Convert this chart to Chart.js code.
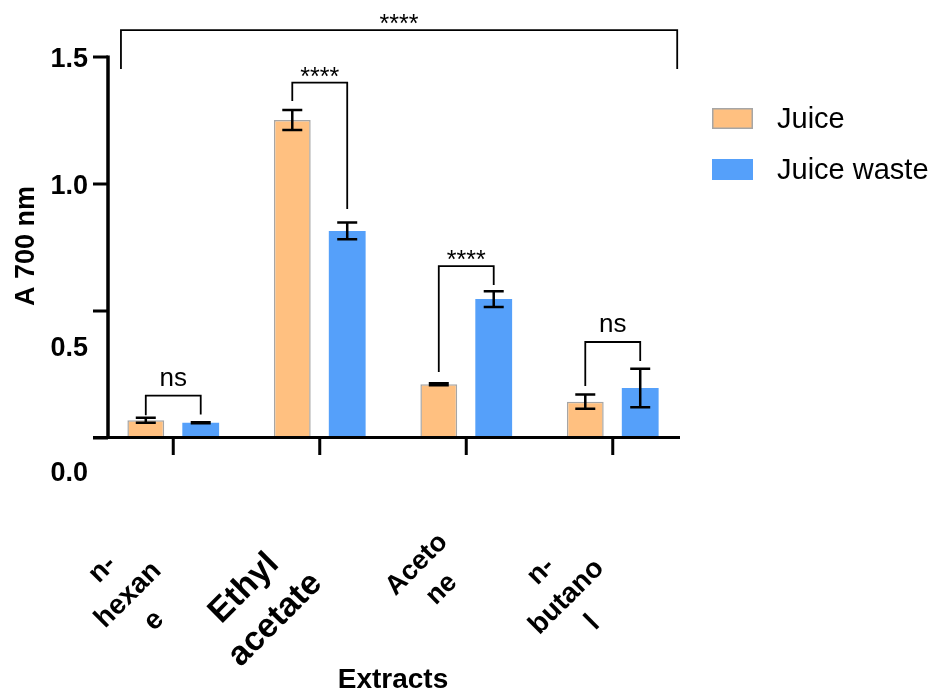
<!DOCTYPE html>
<html>
<head>
<meta charset="utf-8">
<script src="https://cdn.jsdelivr.net/npm/chart.js@4.4.0/dist/chart.umd.min.js"></script>
<style>
  html, body { margin: 0; padding: 0; background: #fff; }
  canvas { display: block; }
</style>
</head>
<body>
<canvas id="chart" width="941" height="691"></canvas>
<script>
const categories = [['n-', 'hexan', 'e'], ['Ethyl', 'acetate'], ['Aceto', 'ne'], ['n-', 'butano', 'l']]
const juice = [0.07, 1.252, 0.212, 0.143]
const juiceErr = [0.01, 0.039, 0.004, 0.028]
const juiceWaste = [0.06, 0.815, 0.547, 0.197]
const juiceWasteErr = [0.002, 0.033, 0.031, 0.076]
const yTicks = [0, 0.5, 1.0, 1.5]
const yTickLabels = ['0.0', '0.5', '1.0', '1.5']

// significance brackets, one per group (y in data units)
const sigText = ['ns', '****', '****', 'ns']
const sigTop = [0.167, 1.399, 0.677, 0.378]
const sigLeftEnd = [0.09, 1.327, 0.26, 0.205]
const sigRightEnd = [0.093, 0.902, 0.602, 0.303]
// bracket over the whole graph
const allText = '****'
const allTop = 1.606
const allEnd = 1.453
const allFrom = -0.357
const allTo = 3.44

const FONT = '"Liberation Sans", Arial, sans-serif'
const orange = 'rgb(255, 192, 128)'
const blue = 'rgb(85, 160, 250)'
const yLabelShift = [33, 35, 0, 0]
const xLabelSize = [28, 34, 27, 28]
const xLabelNudge = [[-45, 157], [-60, 166], [-37, 139], [-46, 159]]

const prismPlugin = {
  id: 'prism',
  afterDatasetsDraw (chart) {
    const ctx = chart.ctx
    const y = chart.scales.y
    const errs = [juiceErr, juiceWasteErr]
    const vals = [juice, juiceWaste]
    ctx.save()
    ctx.strokeStyle = '#000'
    ctx.lineWidth = 2.5
    for (let d = 0; d < 2; d++) {
      chart.getDatasetMeta(d).data.forEach((bar, i) => {
        const top = y.getPixelForValue(vals[d][i] + errs[d][i])
        const bot = y.getPixelForValue(vals[d][i] - errs[d][i])
        ctx.beginPath()
        ctx.moveTo(bar.x, top); ctx.lineTo(bar.x, bot)
        ctx.moveTo(bar.x - 10, top); ctx.lineTo(bar.x + 10, top)
        ctx.moveTo(bar.x - 10, bot); ctx.lineTo(bar.x + 10, bot)
        ctx.stroke()
      })
    }
    ctx.restore()
  },
  afterDraw (chart) {
    const ctx = chart.ctx
    const x = chart.scales.x
    const y = chart.scales.y
    const area = chart.chartArea
    const axisX = area.left + 8
    const zero = y.getPixelForValue(0)
    ctx.save()
    ctx.strokeStyle = '#000'
    ctx.fillStyle = '#000'

    // axes
    ctx.lineWidth = 3.5
    ctx.beginPath()
    ctx.moveTo(axisX, y.getPixelForValue(1.5) - 1.5)
    ctx.lineTo(axisX, zero)
    ctx.stroke()
    ctx.lineWidth = 3
    ctx.beginPath()
    ctx.moveTo(axisX - 15, zero - 0.5)
    ctx.lineTo(area.right - 6, zero - 0.5)
    yTicks.forEach(v => {
      const py = y.getPixelForValue(v)
      ctx.moveTo(axisX - 15, py); ctx.lineTo(axisX, py)
    })
    categories.forEach((c, i) => {
      const px = x.getPixelForValue(i)
      ctx.moveTo(px, zero); ctx.lineTo(px, zero + 17)
    })
    ctx.stroke()

    // y tick labels
    ctx.font = 'bold 27px ' + FONT
    ctx.textAlign = 'right'
    ctx.textBaseline = 'alphabetic'
    yTicks.forEach((v, i) => {
      ctx.fillText(yTickLabels[i], axisX - 20, y.getPixelForValue(v) + 9.5 + yLabelShift[i])
    })

    // x tick labels, rotated
    categories.forEach((lines, i) => {
      const size = xLabelSize[i]
      ctx.save()
      ctx.translate(x.getPixelForValue(i) + xLabelNudge[i][0], zero + xLabelNudge[i][1])
      ctx.rotate(-Math.PI / 4)
      ctx.font = 'bold ' + size + 'px ' + FONT
      ctx.textAlign = 'center'
      ctx.textBaseline = 'middle'
      const lh = size * 1.3
      lines.forEach((t, k) => ctx.fillText(t, 0, (k - (lines.length - 1) / 2) * lh))
      ctx.restore()
    })

    // axis titles
    ctx.font = 'bold 28px ' + FONT
    ctx.textAlign = 'center'
    ctx.textBaseline = 'alphabetic'
    ctx.fillText('Extracts', 393, 688)
    ctx.save()
    ctx.translate(34, 246)
    ctx.rotate(-Math.PI / 2)
    ctx.font = 'bold 27px ' + FONT
    ctx.fillText('A 700 nm', 0, 0)
    ctx.restore()

    // significance brackets
    ctx.lineWidth = 1.8
    const m0 = chart.getDatasetMeta(0).data
    const m1 = chart.getDatasetMeta(1).data
    const bracket = (x1, x2, topV, e1, e2, text) => {
      const ty = y.getPixelForValue(topV)
      ctx.beginPath()
      ctx.moveTo(x1, y.getPixelForValue(e1))
      ctx.lineTo(x1, ty)
      ctx.lineTo(x2, ty)
      ctx.lineTo(x2, y.getPixelForValue(e2))
      ctx.stroke()
      ctx.textAlign = 'center'
      ctx.textBaseline = 'alphabetic'
      if (text === 'ns') {
        ctx.font = '26px ' + FONT
        ctx.fillText(text, (x1 + x2) / 2, ty - 10)
      } else {
        ctx.font = '25px ' + FONT
        ctx.fillText(text, (x1 + x2) / 2, ty - 12.5 + 0.58 * 25)
      }
    }
    sigText.forEach((t, i) => {
      bracket(m0[i].x, m1[i].x, sigTop[i], sigLeftEnd[i], sigRightEnd[i], t)
    })
    bracket(x.getPixelForValue(allFrom), x.getPixelForValue(allTo), allTop, allEnd, allEnd, allText)

    // legend
    const ds = chart.data.datasets
    const rows = [108, 159]
    ds.forEach((d, i) => {
      ctx.fillStyle = d.backgroundColor
      ctx.fillRect(712, rows[i], 41, 21)
      if (d.borderWidth) {
        ctx.strokeStyle = d.borderColor
        ctx.lineWidth = 1.5
        ctx.strokeRect(712.75, rows[i] + 0.75, 39.5, 19.5)
      }
      ctx.fillStyle = '#000'
      ctx.font = '29px ' + FONT
      ctx.textAlign = 'left'
      ctx.fillText(d.label, 777, rows[i] + 20)
    })
    ctx.restore()
  }
}

new Chart(document.getElementById('chart'), {
  type: 'bar',
  data: {
    labels: categories,
    datasets: [
      {
        label: 'Juice',
        data: juice,
        backgroundColor: orange,
        borderColor: '#a6a6a6',
        borderWidth: 1.5,
        borderSkipped: false
      },
      {
        label: 'Juice waste',
        data: juiceWaste,
        backgroundColor: blue,
        borderWidth: 0
      }
    ]
  },
  options: {
    responsive: false,
    animation: false,
    categoryPercentage: 0.75,
    barPercentage: 0.67,
    layout: { padding: { left: 100, right: 255, top: 57, bottom: 253 } },
    plugins: {
      legend: { display: false },
      tooltip: { enabled: false }
    },
    scales: {
      x: { display: false },
      y: { display: false, min: 0, max: 1.5 }
    }
  },
  plugins: [prismPlugin]
})
</script>
</body>
</html>
